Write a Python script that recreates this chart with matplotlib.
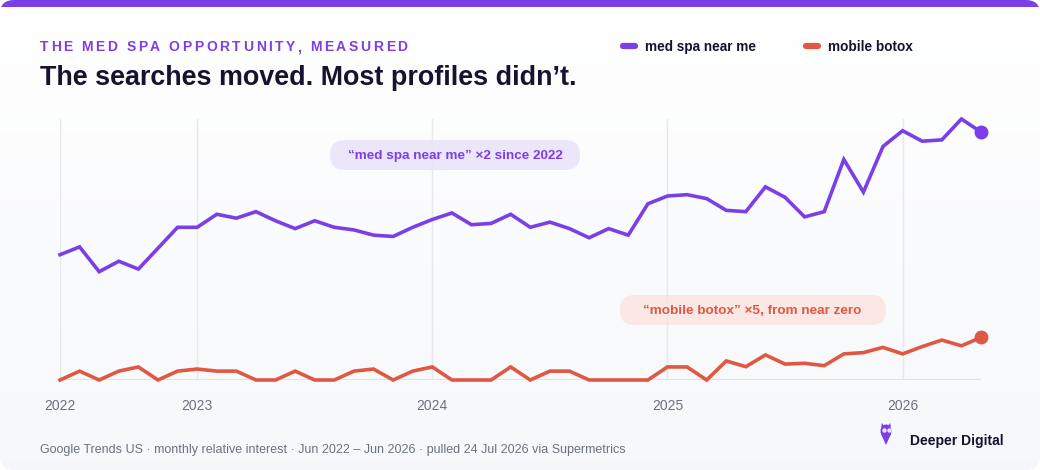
import numpy as np
import matplotlib
matplotlib.use('Agg')
import matplotlib.pyplot as plt
from matplotlib.patches import FancyBboxPatch, Ellipse, Polygon

# monthly points, Jun 2022 .. May 2026
med_spa = [48, 51, 41.5, 45.5, 42.5, 50.5, 58.5, 58.5, 63.5, 62, 64.5, 61, 58, 61, 58.5, 57.5,
           55.5, 55, 58.5, 61.5, 64, 59.5, 60, 63.5, 58.5, 60.5, 58, 54.5, 58, 55.5, 67.5, 70.5,
           71, 69.5, 65, 64.5, 74, 70, 62.5, 64.5, 84.5, 72, 89.5, 95.5, 91.5, 92, 100, 95]
mobile_botox = [0, 3.4, 0, 3.4, 5, 0, 3.4, 4.2, 3.4, 3.4, 0, 0, 3.4, 0, 0, 3.4,
                4.2, 0, 3.4, 5, 0, 0, 0, 5, 0, 3.4, 3.4, 0, 0, 0, 0, 5,
                5, 0, 7.3, 5.1, 9.6, 6.1, 6.4, 5.5, 10, 10.5, 12.5, 10, 12.8, 15.3, 13.1, 16.3]
year_ticks = [0, 7, 19, 31, 43]
year_labels = ['2022', '2023', '2024', '2025', '2026']

PURPLE = '#7b3fe8'
RED = '#df5843'
DARK = '#17132f'
GRAY = '#6b7280'

W, H = 1040, 470
fig = plt.figure(figsize=(W / 100, H / 100), dpi=100)
fig.patch.set_facecolor('white')


def fx(x):
    return x / W


def fy(y):
    return 1 - y / H


# card background with gradient and purple top bar
bg = fig.add_axes([0, 0, 1, 1])
bg.set_xlim(0, W)
bg.set_ylim(H, 0)
bg.axis('off')
card = FancyBboxPatch((0, 0), W, H, boxstyle='round,pad=0,rounding_size=14',
                      facecolor='none', edgecolor='none')
bg.add_patch(card)
grad = np.linspace(0, 1, 256).reshape(-1, 1)
top = np.array([1.0, 1.0, 1.0])
bot = np.array([0.965, 0.972, 0.984])
img = top + (bot - top) * grad[:, :, None]
im = bg.imshow(img, extent=[0, W, H, 0], aspect='auto', zorder=0)
im.set_clip_path(card)
bar = bg.add_patch(plt.Rectangle((0, 0), W, 7, facecolor=PURPLE, edgecolor='none', zorder=1))
bar.set_clip_path(card)

# header
renderer = fig.canvas.get_renderer()
x = 40
for ch in 'THE MED SPA OPPORTUNITY, MEASURED':
    t = fig.text(fx(x), fy(47), ch, fontsize=10, fontweight='bold', color=PURPLE,
                 family='Liberation Sans', va='center', ha='left')
    w = t.get_window_extent(renderer).width if ch != ' ' else 3.6
    x += w + 2.6
fig.text(fx(40), fy(78), 'The searches moved. Most profiles didn\u2019t.', fontsize=19.4,
         fontweight='bold', color=DARK, family='Liberation Sans', va='center', ha='left')

# legend
for lx, name, c in [(620, 'med spa near me', PURPLE), (803, 'mobile botox', RED)]:
    bg.plot([lx + 3, lx + 15], [46, 46], color=c, lw=4.5, solid_capstyle='round')
    fig.text(fx(lx + 25), fy(47), name, fontsize=9.8, fontweight='bold', color=DARK,
             family='Liberation Sans', va='center', ha='left')

# chart
ax = fig.add_axes([fx(60), fy(380), (981 - 60) / W, (380 - 119) / H])
ax.set_facecolor('none')
ax.set_xlim(0, 47)
ax.set_ylim(0, 100)
months = np.arange(len(med_spa))
for xt in year_ticks:
    ax.axvline(xt, color='#e6e8ee', lw=1, zorder=1)
ax.axhline(0, color='#dfe2e8', lw=1.5, zorder=1)
ax.plot(months, med_spa, color=PURPLE, lw=2.6, solid_joinstyle='miter', clip_on=False, zorder=3)
ax.plot(months, mobile_botox, color=RED, lw=2.6, solid_joinstyle='miter', clip_on=False, zorder=3)
ax.plot(months[-1], med_spa[-1], 'o', color=PURPLE, ms=9, clip_on=False, zorder=4)
ax.plot(months[-1], mobile_botox[-1], 'o', color=RED, ms=9, clip_on=False, zorder=4)
ax.set_xticks(year_ticks)
ax.set_xticklabels(year_labels)
ax.tick_params(axis='x', length=0, pad=14, labelsize=10, labelcolor=GRAY)
ax.set_yticks([])
for s in ax.spines.values():
    s.set_visible(False)
for lbl in ax.get_xticklabels():
    lbl.set_family('Liberation Sans')

# annotation pills
bg.add_patch(FancyBboxPatch((330, 140), 250, 30, boxstyle='round,pad=0,rounding_size=15',
                            facecolor='#ece6fb', edgecolor='none', zorder=2))
fig.text(fx(455), fy(156), '\u201cmed spa near me\u201d \u00d72 since 2022', fontsize=9.7,
         fontweight='bold', color=PURPLE, family='Liberation Sans', ha='center', va='center')
bg.add_patch(FancyBboxPatch((620, 295), 266, 30, boxstyle='round,pad=0,rounding_size=15',
                            facecolor='#fbe7e3', edgecolor='none', zorder=2))
fig.text(fx(752), fy(311), '\u201cmobile botox\u201d \u00d75, from near zero', fontsize=9.7,
         fontweight='bold', color=RED, family='Liberation Sans', ha='center', va='center')

# footer
fig.text(fx(40), fy(450), 'Google Trends US \u00b7 monthly relative interest \u00b7 Jun 2022 \u2013 Jun 2026 '
         '\u00b7 pulled 24 Jul 2026 via Supermetrics', fontsize=9.0, color=GRAY,
         family='Liberation Sans', ha='left', va='center')
bg.add_patch(Ellipse((886, 431), 11, 13, facecolor=PURPLE, edgecolor='none', zorder=3))
bg.add_patch(Polygon([[881, 434], [891, 434], [886, 445]], closed=True, facecolor=PURPLE,
                     edgecolor='none', zorder=3))
bg.add_patch(Polygon([[881, 427], [882, 423], [884, 426]], closed=True, facecolor=PURPLE,
                     edgecolor='none', zorder=3))
bg.add_patch(Polygon([[891, 427], [890, 423], [888, 426]], closed=True, facecolor=PURPLE,
                     edgecolor='none', zorder=3))
bg.plot([884, 888.5], [430, 430], 'o', color='#e9e2fb', ms=2.2, zorder=4)
fig.text(fx(910), fy(441), 'Deeper Digital', fontsize=10, fontweight='bold', color=DARK,
         family='Liberation Sans', ha='left', va='center')

fig.savefig('out.png', dpi=100)
